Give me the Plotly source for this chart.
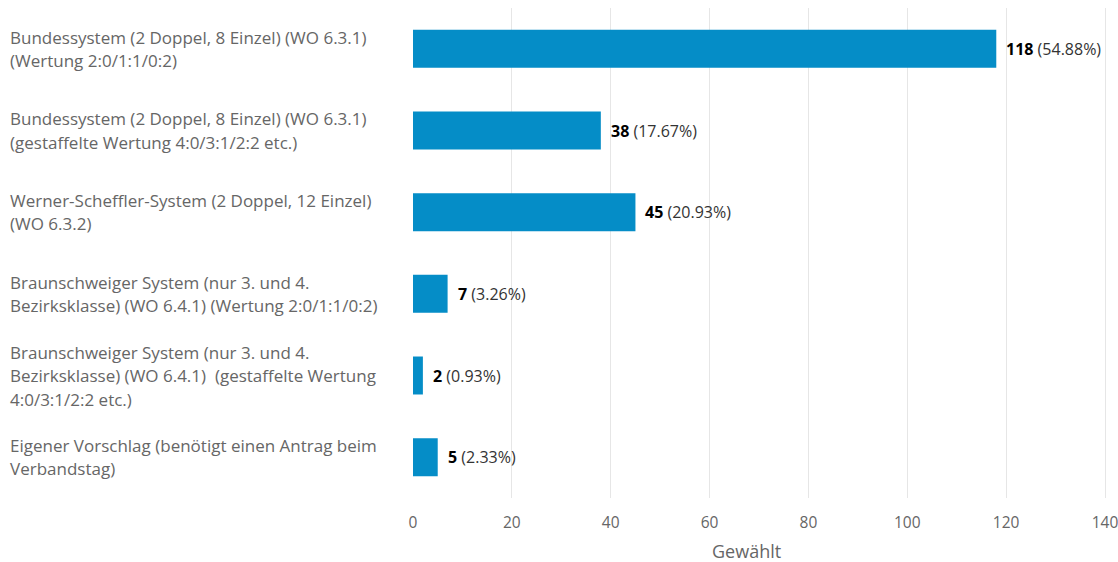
import plotly.graph_objects as go

# Poll options (one line of the label per list entry), votes and shares
categories = [
    ["Bundessystem (2 Doppel, 8 Einzel) (WO 6.3.1)", "(Wertung 2:0/1:1/0:2)"],
    ["Bundessystem (2 Doppel, 8 Einzel) (WO 6.3.1)", "(gestaffelte Wertung 4:0/3:1/2:2 etc.)"],
    ["Werner-Scheffler-System (2 Doppel, 12 Einzel)", "(WO 6.3.2)"],
    ["Braunschweiger System (nur 3. und 4.", "Bezirksklasse) (WO 6.4.1) (Wertung 2:0/1:1/0:2)"],
    ["Braunschweiger System (nur 3. und 4.",
     "Bezirksklasse) (WO 6.4.1)\u00a0\u00a0(gestaffelte Wertung",
     "4:0/3:1/2:2 etc.)"],
    ["Eigener Vorschlag (benötigt einen Antrag beim", "Verbandstag)"],
]
votes = [118, 38, 45, 7, 2, 5]
shares = ["54.88%", "17.67%", "20.93%", "3.26%", "0.93%", "2.33%"]
x_ticks = [0, 20, 40, 60, 80, 100, 120, 140]
axis_title = "Gewählt"

FONT = "Open Sans"
TEXT_GRAY = "#666666"
BAR_BLUE = "#058dc7"

# plot area in pixels (a little room past 140 so its gridline is kept)
LEFT, RIGHT, TOP, BOTTOM = 413, 11, 8, 64
PLOT_H = 562 - TOP - BOTTOM
X_MAX = 140.4

positions = list(range(len(votes)))

fig = go.Figure(
    go.Bar(
        x=votes,
        y=positions,
        orientation="h",
        width=0.465,
        marker=dict(color=BAR_BLUE, line=dict(width=0)),
        hoverinfo="skip",
    )
)

annotations = []
# Left-aligned category labels, one annotation per line
line_gap = 23.5
for pos, lines in zip(positions, categories):
    n = len(lines)
    for k, line in enumerate(lines):
        annotations.append(dict(
            x=0, xref="paper", xanchor="left", xshift=-(LEFT - 8),
            y=pos, yref="y", yanchor="middle",
            yshift=((n - 1) / 2 - k) * line_gap,
            text=line, showarrow=False, align="left",
            font=dict(family=FONT, size=17, color=TEXT_GRAY),
        ))

# Value labels to the right of each bar
for pos, v, s in zip(positions, votes, shares):
    annotations.append(dict(
        x=v, xref="x", xanchor="left", xshift=8,
        y=pos, yref="y", yanchor="middle",
        text=f"<b><span style='color:#000000'>{v}</span></b> ({s})",
        showarrow=False,
        font=dict(family=FONT, size=16, color="#333333"),
    ))

# Axis title below the plot area
annotations.append(dict(
    x=0, xref="paper", xanchor="center", xshift=746 - LEFT,
    y=-(551 - (562 - BOTTOM)) / PLOT_H, yref="paper", yanchor="middle",
    text=axis_title, showarrow=False,
    font=dict(family=FONT, size=18, color=TEXT_GRAY),
))

fig.update_layout(
    width=1118, height=562,
    margin=dict(l=LEFT, r=RIGHT, t=TOP, b=BOTTOM, autoexpand=False),
    paper_bgcolor="white", plot_bgcolor="white",
    showlegend=False,
    bargap=0.5,
    annotations=annotations,
    xaxis=dict(
        range=[0, X_MAX], tickvals=x_ticks, ticktext=[str(t) for t in x_ticks],
        showgrid=True, gridcolor="#e6e6e6", gridwidth=1,
        zeroline=False, showline=False, ticks="", automargin=False,
        ticklabeloverflow="allow",
        ticklabelstandoff=13,
        tickfont=dict(family=FONT, size=15.5, color=TEXT_GRAY),
    ),
    yaxis=dict(
        range=[len(votes) - 0.5, -0.5], automargin=False,
        showticklabels=False, showgrid=False, zeroline=False, ticks="",
    ),
)

fig.write_html("out.html")
